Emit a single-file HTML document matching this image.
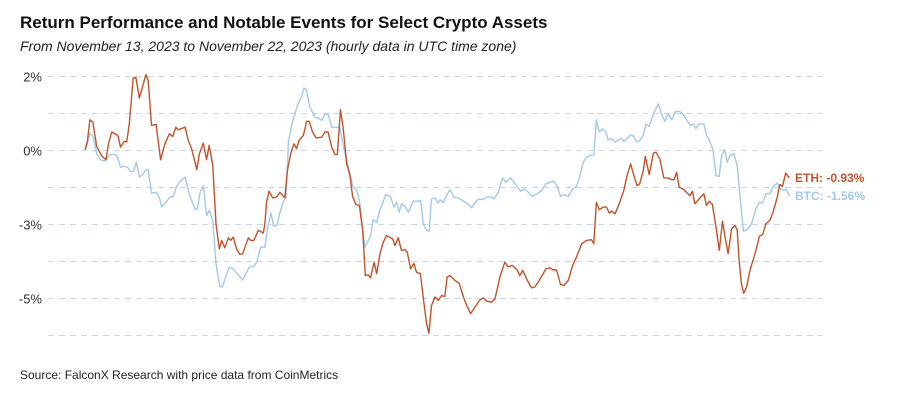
<!DOCTYPE html>
<html><head><meta charset="utf-8"><style>
body{margin:0;background:#fff;font-family:"Liberation Sans",sans-serif;}
#wrap{position:relative;width:900px;height:400px;overflow:hidden;}
</style></head><body>
<div id="wrap">
<svg id="chart" width="900" height="400" xmlns="http://www.w3.org/2000/svg">
<text x="20" y="28" font-size="17" font-weight="bold" fill="#111">Return Performance and Notable Events for Select Crypto Assets</text>
<text x="20" y="51" font-size="14" font-style="italic" fill="#222">From November 13, 2023 to November 22, 2023 (hourly data in UTC time zone)</text>
<text x="20" y="379" font-size="12" fill="#222">Source: FalconX Research with price data from CoinMetrics</text>
<g id="grid"></g><g id="yticks"></g><g id="series"></g><g id="labels"></g>
</svg>
</div>
<script>
const gridValues=[2,1,0,-1,-2,-3,-4,-5];
const tickValues=[2,0,-2,-4];
const tickLabels=["2%","0%","-3%","-5%"];
const ethHours=[0,0.7,1.5,2.4,3.6,5.1,6.4,7.2,8.2,9.7,10.2,10.9,12,12.8,13.6,14.8,15.6,16.7,18.7,19.4,20.4,21.8,23.2,24.5,25.9,26.9,27.9,28.6,30.7,31.7,32.7,34.3,35.1,36.3,37.3,38.1,39.2,40.2,41.2,41.9,42.9,44,44.7,45.5,46.5,47.5,48.4,50.1,50.8,51.8,53.2,54.7,55.2,55.7,56.5,57.6,58.8,59.8,61.3,62.1,63.1,64.1,64.9,65.7,67,68,68.8,69.8,70.9,72.6,73.6,74.6,75.7,76.7,77.4,78.4,79.2,80.3,81.3,82.1,83.1,84.2,85.2,86,86.9,87.6,88.7,89.5,90.5,91.5,92.5,94.4,95.1,96.1,97.1,98.2,98.9,99.9,100.9,101.7,102.9,104,104.8,105.5,106.3,107.4,108.4,109.4,110.4,111.1,112,113.5,114.8,116.1,117.1,118.3,119.3,121,122.2,123.2,124.7,125.8,127.3,128.8,129.8,131.2,132.6,133.4,134.3,135.7,137,138,139.4,141.4,142.6,143.7,144.7,145.9,146.9,148.3,149.6,150.8,152.4,153.9,155.4,156.1,156.9,157.8,159,160,160.8,161.6,162.6,163.9,165.3,166.3,167.4,168.4,169.4,170.2,171.3,171.9,173.1,174.4,175.2,176.4,177.6,178.9,180,180.7,181.5,182.3,183.5,184.8,185.6,186.4,187.1,188.4,189.9,190.7,191.5,192.5,193.6,194.6,195.6,196.4,197.3,198.4,199.4,200.1,200.7,201.4,202.1,203,204,205.2,206,206.9,207.9,208.9,210.1,211.1,212.4,213.2,214,215,216.1];
const ethValues=[0.02,0.23,0.83,0.77,0.11,-0.14,-0.25,0.18,0.5,0.43,0.38,0.09,0.25,0.23,0.72,1.96,1.98,1.42,2.05,1.89,0.68,0.7,-0.25,0.18,0.45,0.38,0.63,0.56,0.63,0.27,0.05,-0.52,-0.09,0.2,-0.25,0.14,-0.41,-1.98,-2.66,-2.43,-2.63,-2.36,-2.43,-2.34,-2.66,-2.81,-2.79,-2.36,-2.43,-2.43,-2.16,-2.23,-1.98,-1.4,-1.1,-1.28,-1.26,-1.13,-1.28,-0.54,-0.09,0.18,0.05,0.27,0.41,0.79,0.79,0.5,0.34,0.36,0.5,0.5,0.09,-0.11,-0.11,1.1,0.63,-0.36,-0.68,-1.24,-1.46,-1.49,-2.16,-3.38,-3.36,-3.44,-3.02,-3.33,-2.79,-2.48,-2.3,-2.39,-2.57,-2.36,-2.7,-2.68,-2.75,-3.2,-3.05,-3.29,-3.33,-4.14,-4.68,-4.94,-4.19,-3.96,-4.05,-3.92,-3.95,-3.42,-3.38,-3.51,-3.59,-3.96,-4.19,-4.41,-4.28,-4.05,-3.98,-4.07,-4.1,-4.01,-3.42,-3.02,-3.14,-3.11,-3.23,-3.38,-3.24,-3.51,-3.71,-3.69,-3.51,-3.2,-3.17,-3.23,-3.23,-3.62,-3.65,-3.51,-3.11,-2.88,-2.52,-2.43,-2.41,-2.52,-1.4,-1.6,-1.53,-1.53,-1.69,-1.64,-1.71,-1.44,-1.08,-0.68,-0.36,-0.68,-0.95,-0.9,-0.54,-0.16,-0.65,-0.07,-0.05,-0.23,-0.74,-0.74,-0.79,-0.79,-0.59,-0.99,-1.04,-1.15,-1.22,-1.1,-1.44,-1.31,-1.17,-1.49,-1.37,-1.46,-2.07,-2.7,-1.91,-2.34,-2.79,-2.12,-2.03,-2.14,-2.97,-3.6,-3.86,-3.69,-3.24,-2.9,-2.66,-2.32,-2.27,-1.98,-1.89,-1.67,-1.26,-0.92,-0.97,-0.61,-0.74];
const btcHours=[0,0.7,1.5,2.4,3.6,4.8,6.1,7.5,9.2,9.9,10.9,12,13,14,14.8,15.8,16.7,17.9,18.7,19.4,20.4,21.8,22.8,23.5,24.8,26.1,27.1,28.1,29.3,30.7,32,33,33.7,34.5,35.3,36.3,37.3,38.1,39.2,40.2,41.4,42.2,43.5,44.3,45.5,46.7,48.4,49.4,50.4,51.6,52.7,53.9,55.2,55.9,57,58,59,59.6,60.8,61.7,62.4,63.4,64.7,65.4,66.5,67.2,68,69,70.6,71.9,72.6,73.6,74.6,75.7,77.2,78.2,79.4,81.1,82.1,83.3,84.2,85.2,85.9,86.6,87.6,88.4,89.5,90.5,92.3,93.8,94.8,95.6,96.4,97.1,98.2,99.2,99.9,100.7,102.2,103,103.8,104.8,105.6,106.3,107.4,108.4,108.9,109.9,110.9,112,113.2,114.5,115.8,117.1,118.6,119.6,120.7,122,123.2,124.7,125.5,126.8,128.1,129.1,130.6,131.6,132.6,133.6,135,136,137.3,138.7,140.1,141.4,142.6,143.9,144.9,145.9,146.9,148.3,149.6,150.8,151.6,152.9,153.9,154.9,156.1,156.9,157.8,158.8,159.8,160.5,161.6,162.6,163.3,164.6,165.3,166.3,167.4,168.4,169.2,170.2,171.3,172.1,173.1,174.4,175.9,177.2,177.9,178.9,180,181,182.3,183.5,184.8,185.8,186.8,187.4,188.4,189.9,190.7,191.7,192.7,193.6,194.6,195.3,196.3,197,197.9,199.1,200.1,200.9,202,203.2,204.5,205.8,206.9,207.9,208.9,210.1,211.3,212.4,213.4,214.4,215.2,216.1];
const btcValues=[0.02,0.18,0.45,0.41,-0.09,-0.25,-0.29,-0.11,-0.11,-0.16,-0.45,-0.43,-0.45,-0.57,-0.57,-0.32,-0.72,-0.63,-0.52,-0.52,-1.15,-1.13,-1.26,-1.53,-1.4,-1.26,-1.24,-0.97,-0.83,-0.72,-1.17,-1.42,-1.58,-1.58,-1.13,-0.95,-1.76,-1.62,-1.89,-3.06,-3.68,-3.68,-3.33,-3.15,-3.2,-3.33,-3.5,-3.32,-3.15,-3.14,-3.02,-2.61,-2.61,-2.16,-1.69,-2.05,-2,-1.73,-1.4,-1.26,0.23,0.68,1.08,1.28,1.46,1.69,1.62,1.17,0.9,0.86,0.81,0.97,0.99,0.63,0.63,0.63,0.05,-0.54,-0.95,-1.08,-1.35,-2.12,-2.61,-2.48,-2.32,-1.87,-1.94,-1.6,-1.19,-1.26,-1.53,-1.4,-1.67,-1.44,-1.51,-1.67,-1.53,-1.37,-1.37,-1.35,-1.98,-2.16,-2.18,-1.31,-1.28,-1.42,-1.33,-1.4,-1.22,-1.06,-1.26,-1.28,-1.35,-1.42,-1.55,-1.42,-1.31,-1.33,-1.26,-1.26,-1.31,-1.13,-0.74,-0.86,-0.74,-0.86,-0.97,-1.1,-1.04,-1.13,-1.24,-1.17,-1.08,-0.9,-0.86,-0.83,-0.97,-1.24,-1.19,-1.24,-1.04,-0.97,-0.77,-0.32,-0.18,-0.14,-0.11,0.83,0.5,0.59,0.5,0.29,0.32,0.23,0.27,0.32,0.25,0.32,0.43,0.38,0.23,0.27,0.41,0.72,0.65,0.99,1.26,0.92,0.79,0.99,0.83,1.04,1.06,0.99,0.79,0.68,0.72,0.59,0.72,0.72,0.41,0.25,0,-0.68,-0.7,-0.14,0.02,-0.32,-0.14,-0.09,-0.41,-1.17,-2.18,-2.14,-1.98,-1.58,-1.4,-1.42,-1.17,-1.17,-0.95,-0.88,-1.04,-1.08,-1.04,-1.22];
const endLabels=["ETH: -0.93%","BTC: -1.56%"];

const NS="http://www.w3.org/2000/svg";
function xScale(h){return 85+h*(704/216);}
function yScale(v){return 150.5-37*v;}
const grid=document.getElementById('grid');
gridValues.forEach(v=>{
  const l=document.createElementNS(NS,'line');
  l.setAttribute('x1',48);l.setAttribute('x2',823);
  l.setAttribute('y1',yScale(v));l.setAttribute('y2',yScale(v));
  l.setAttribute('stroke','#c9d5ef');l.setAttribute('stroke-width','1');l.setAttribute('stroke-dasharray','6,5');
  
  
  grid.appendChild(l);
});
const yt=document.getElementById('yticks');
tickValues.forEach((v,i)=>{
  const t=document.createElementNS(NS,'text');
  t.setAttribute('x',42);t.setAttribute('y',yScale(v)+5);
  t.setAttribute('text-anchor','end');t.setAttribute('font-size','13');t.setAttribute('fill','#333');
  t.textContent=tickLabels[i];
  
  
  yt.appendChild(t);
});
function drawLine(hours,vals,color,name){
  const p=document.createElementNS(NS,'polyline');
  p.setAttribute('points',hours.map((h,i)=>xScale(h).toFixed(1)+','+yScale(vals[i]).toFixed(1)).join(' '));
  p.setAttribute('fill','none');p.setAttribute('stroke',color);p.setAttribute('stroke-width','1.4');p.setAttribute('stroke-linejoin','round');
  
  
  document.getElementById('series').appendChild(p);
}
drawLine(btcHours,btcValues,'#a3c9e6','btc-line');
drawLine(ethHours,ethValues,'#c1532b','eth-line');
const lg=document.getElementById('labels');
[[endLabels[0],'#c1532b',182,'eth-end-label'],[endLabels[1],'#a3c9e6',200,'btc-end-label']].forEach(a=>{
  const t=document.createElementNS(NS,'text');
  t.setAttribute('x',795);t.setAttribute('y',a[2]);t.setAttribute('font-size','12');t.setAttribute('font-weight','bold');t.setAttribute('fill',a[1]);
  t.textContent=a[0];
  
  
  lg.appendChild(t);
});
</script>
</body></html>
